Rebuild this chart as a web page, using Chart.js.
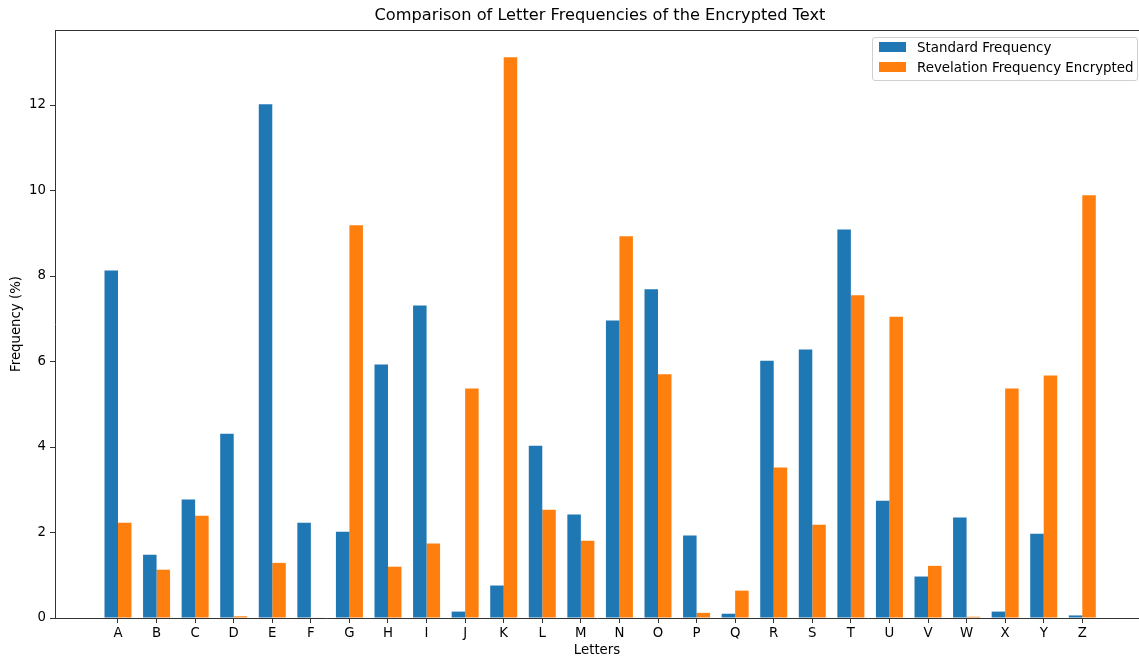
<!DOCTYPE html>
<html>
<head>
<meta charset="utf-8">
<script src="https://cdn.jsdelivr.net/npm/chart.js@4.4.1/dist/chart.umd.min.js"></script>
<style>
  body { margin: 0; background: #fff; }
  #wrap { position: relative; width: 1139px; height: 660px; }
  #legend {
    position: absolute; left: 872px; top: 37px; width: 264px; height: 42px;
    border: 1px solid #d0d0d0; border-radius: 3px; background: rgba(255,255,255,0.8);
    font-family: "DejaVu Sans", sans-serif; font-size: 13.4px; color: #000;
  }
  .row { position: absolute; left: 6px; height: 20px; display: flex; align-items: center; }
  .sw { width: 27px; height: 10px; margin-right: 11px; }
</style>
</head>
<body>
<div id="wrap">
  <canvas id="chart" width="1139" height="660"></canvas>
  <div id="legend"></div>
</div>
<script>
// letters on the x axis
var letters = ["A","B","C","D","E","F","G","H","I","J","K","L","M",
               "N","O","P","Q","R","S","T","U","V","W","X","Y","Z"];

// english letter frequencies (%)
var standardFreq = [8.13, 1.48, 2.77, 4.31, 12.02, 2.23, 2.02, 5.93, 7.31, 0.15, 0.76, 4.03, 2.42,
                    6.96, 7.69, 1.93, 0.10, 6.02, 6.28, 9.09, 2.74, 0.97, 2.35, 0.15, 1.97, 0.06];

// frequencies counted in the encrypted text (%)
var encryptedFreq = [2.23, 1.13, 2.39, 0.04, 1.29, 0.01, 9.19, 1.20, 1.74, 5.37, 13.12, 2.53, 1.81,
                     8.93, 5.70, 0.12, 0.64, 3.52, 2.18, 7.55, 7.05, 1.22, 0.03, 5.37, 5.67, 9.89];

var yTicks = [0, 2, 4, 6, 8, 10, 12];

var chartTitle = "Comparison of Letter Frequencies of the Encrypted Text";

Chart.defaults.font.family = "'DejaVu Sans', sans-serif";
Chart.defaults.color = "#000";

function toPoints(arr) {
  return arr.map(function (v, i) { return { x: i, y: v }; });
}

// top spine + title centred over the (wider) matplotlib axes
var topSpine = {
  id: "topSpine",
  afterDraw: function (chart) {
    var a = chart.chartArea, ctx = chart.ctx;
    ctx.save();
    ctx.strokeStyle = "#333";
    ctx.lineWidth = 1;
    ctx.beginPath();
    ctx.moveTo(a.left, Math.round(a.top) + 0.5);
    ctx.lineTo(a.right, Math.round(a.top) + 0.5);
    ctx.stroke();
    ctx.fillStyle = "#000";
    ctx.font = "16.2px 'DejaVu Sans', sans-serif";
    ctx.textAlign = "center";
    ctx.textBaseline = "middle";
    ctx.fillText(chartTitle, (a.left + a.right + 6) / 2, 16);
    ctx.restore();
  }
};

var chart = new Chart(document.getElementById("chart"), {
  type: "bar",
  data: {
    datasets: [{
      label: "Standard Frequency",
      data: toPoints(standardFreq),
      backgroundColor: "#1f77b4",
      borderWidth: 0
    }, {
      label: "Revelation Frequency Encrypted",
      data: toPoints(encryptedFreq),
      backgroundColor: "#ff7f0e",
      borderWidth: 0
    }]
  },
  plugins: [topSpine],
  options: {
    responsive: false,
    animation: false,
    layout: { padding: { top: 30, left: 0, right: 0, bottom: 0 } },
    categoryPercentage: 0.7,
    barPercentage: 1.0,
    plugins: {
      legend: { display: false },
      tooltip: { enabled: false },
      title: { display: false }
    },
    scales: {
      x: {
        type: "linear",
        offset: false,
        min: -1.633,
        max: 26.47,
        grid: { display: true, drawOnChartArea: false, drawTicks: true, tickLength: 5, color: "#333", offset: false },
        border: { display: true, color: "#333", width: 1 },
        afterBuildTicks: function (scale) {
          scale.ticks = letters.map(function (_, i) { return { value: i }; });
        },
        ticks: {
          autoSkip: false,
          maxRotation: 0,
          padding: 3,
          font: { size: 13.3 },
          callback: function (v) { return letters[v]; }
        },
        title: { display: true, text: "Letters", font: { size: 13.3 }, padding: { top: 2, bottom: 1 } },
        afterFit: function (scale) { scale.height = 42; }
      },
      y: {
        min: 0,
        max: 13.755,
        grid: { display: true, drawOnChartArea: false, drawTicks: true, tickLength: 5, color: "#333" },
        border: { display: true, color: "#333", width: 1 },
        afterBuildTicks: function (scale) {
          scale.ticks = yTicks.map(function (v) { return { value: v }; });
        },
        ticks: { padding: 4, font: { size: 13.3 } },
        title: { display: true, text: "Frequency (%)", font: { size: 13.3 }, padding: { top: 9, bottom: 0 } },
        afterFit: function (scale) { scale.width = 55; }
      }
    }
  }
});

// legend box inside the plot, built from the datasets
var legend = document.getElementById("legend");
chart.data.datasets.forEach(function (ds, i) {
  var row = document.createElement("div");
  row.className = "row";
  row.style.top = (-1 + i * 20) + "px";
  var sw = document.createElement("div");
  sw.className = "sw";
  sw.style.background = ds.backgroundColor;
  var txt = document.createElement("span");
  txt.textContent = ds.label;
  row.appendChild(sw);
  row.appendChild(txt);
  legend.appendChild(row);
});
</script>
</body>
</html>
